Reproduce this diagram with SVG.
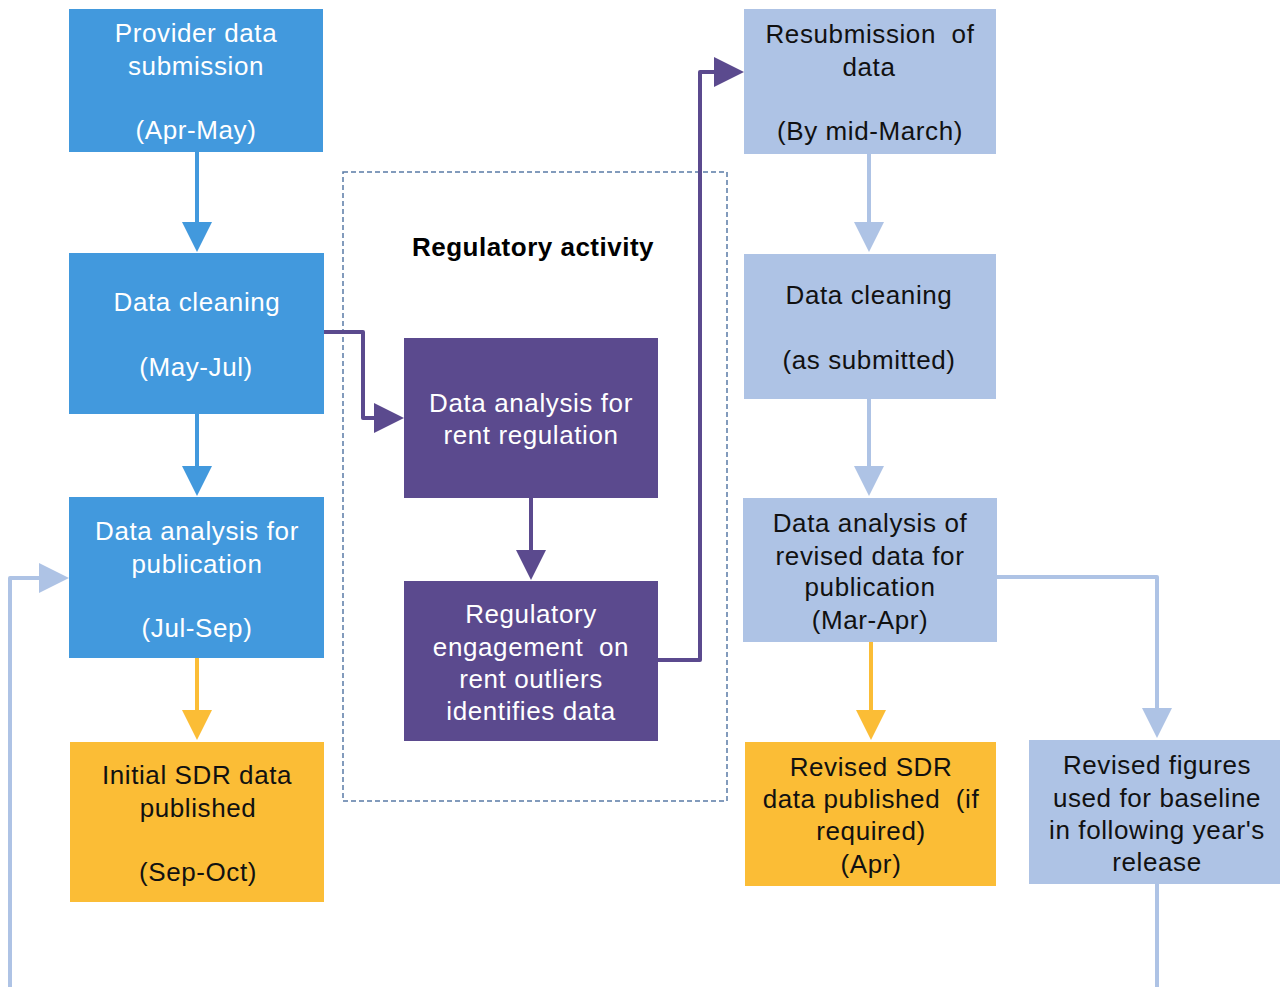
<svg xmlns="http://www.w3.org/2000/svg" width="1280" height="987" viewBox="0 0 1280 987">
<style>
text{font-family:"Liberation Sans",Arial,sans-serif;font-size:26px;letter-spacing:0.6px;text-anchor:middle;white-space:pre}
.w{fill:#ffffff}
.k{fill:#111111}
.blue{fill:#4299DD}
.purple{fill:#5B4A8E}
.light{fill:#AEC3E5}
.yellow{fill:#FBBD36}
.c{fill:none;stroke-width:4;stroke-linejoin:round}
</style>
<defs>
<marker id="mb" viewBox="0 0 30 30" refX="20" refY="15" markerWidth="30" markerHeight="30" markerUnits="userSpaceOnUse" orient="auto"><path d="M0,0 L30,15 L0,30 z" fill="#4299DD"/></marker>
<marker id="mp" viewBox="0 0 30 30" refX="20" refY="15" markerWidth="30" markerHeight="30" markerUnits="userSpaceOnUse" orient="auto"><path d="M0,0 L30,15 L0,30 z" fill="#5B4A8E"/></marker>
<marker id="ml" viewBox="0 0 30 30" refX="20" refY="15" markerWidth="30" markerHeight="30" markerUnits="userSpaceOnUse" orient="auto"><path d="M0,0 L30,15 L0,30 z" fill="#AEC3E5"/></marker>
<marker id="my" viewBox="0 0 30 30" refX="20" refY="15" markerWidth="30" markerHeight="30" markerUnits="userSpaceOnUse" orient="auto"><path d="M0,0 L30,15 L0,30 z" fill="#FBBD36"/></marker>
</defs>
<rect width="1280" height="987" fill="#ffffff"/>

<g id="regulatory-activity">
<rect x="343" y="172" width="384" height="629" fill="none" stroke="#5A7BA6" stroke-width="1.5" stroke-dasharray="5 3"/>
<text x="533" y="256" style="font-weight:bold;letter-spacing:0.5px" fill="#000000">Regulatory activity</text>
</g>

<g id="connectors">
<path class="c" stroke="#4299DD" d="M197,152 V242" marker-end="url(#mb)"/>
<path class="c" stroke="#4299DD" d="M197,414 V486" marker-end="url(#mb)"/>
<path class="c" stroke="#FBBD36" d="M197,658 V730" marker-end="url(#my)"/>
<path class="c" stroke="#5B4A8E" d="M324,332 H363 V418 H394" marker-end="url(#mp)"/>
<path class="c" stroke="#5B4A8E" d="M531,498 V570" marker-end="url(#mp)"/>
<path class="c" stroke="#5B4A8E" d="M658,660 H700 V72 H734" marker-end="url(#mp)"/>
<path class="c" stroke="#AEC3E5" d="M869,154 V242" marker-end="url(#ml)"/>
<path class="c" stroke="#AEC3E5" d="M869,399 V486" marker-end="url(#ml)"/>
<path class="c" stroke="#FBBD36" d="M871,642 V730" marker-end="url(#my)"/>
<path class="c" stroke="#AEC3E5" d="M997,577 H1157 V728" marker-end="url(#ml)"/>
<path class="c" stroke="#AEC3E5" d="M1157,884 V987"/>
<path class="c" stroke="#AEC3E5" d="M10,987 V578 H59" marker-end="url(#ml)"/>
</g>

<g id="provider-submission">
<rect class="blue" x="69" y="9" width="254" height="143"/>
<text class="w" x="196" y="42">Provider data</text>
<text class="w" x="196" y="75">submission</text>
<text class="w" x="196" y="139">(Apr-May)</text>
</g>

<g id="data-cleaning">
<rect class="blue" x="69" y="253" width="255" height="161"/>
<text class="w" x="197" y="311">Data cleaning</text>
<text class="w" x="196" y="376">(May-Jul)</text>
</g>

<g id="analysis-publication">
<rect class="blue" x="69" y="497" width="255" height="161"/>
<text class="w" x="197" y="540">Data analysis for</text>
<text class="w" x="197" y="573">publication</text>
<text class="w" x="197" y="637">(Jul-Sep)</text>
</g>

<g id="initial-sdr">
<rect class="yellow" x="70" y="742" width="254" height="160"/>
<text class="k" x="197" y="784">Initial SDR data</text>
<text class="k" x="198" y="817">published</text>
<text class="k" x="198" y="881">(Sep-Oct)</text>
</g>

<g id="analysis-rent">
<rect class="purple" x="404" y="338" width="254" height="160"/>
<text class="w" x="531" y="412">Data analysis for</text>
<text class="w" x="531" y="444">rent regulation</text>
</g>

<g id="regulatory-engagement">
<rect class="purple" x="404" y="581" width="254" height="160"/>
<text class="w" x="531" y="623">Regulatory</text>
<text class="w" x="531" y="656">engagement  on</text>
<text class="w" x="531" y="688">rent outliers</text>
<text class="w" x="531" y="720">identifies data</text>
</g>

<g id="resubmission">
<rect class="light" x="744" y="9" width="252" height="145"/>
<text class="k" x="870" y="43">Resubmission  of</text>
<text class="k" x="869" y="76">data</text>
<text class="k" x="870" y="140">(By mid-March)</text>
</g>

<g id="data-cleaning-submitted">
<rect class="light" x="744" y="254" width="252" height="145"/>
<text class="k" x="869" y="304">Data cleaning</text>
<text class="k" x="869" y="369">(as submitted)</text>
</g>

<g id="analysis-revised">
<rect class="light" x="743" y="498" width="254" height="144"/>
<text class="k" x="870" y="532">Data analysis of</text>
<text class="k" x="870" y="565">revised data for</text>
<text class="k" x="870" y="596">publication</text>
<text class="k" x="870" y="629">(Mar-Apr)</text>
</g>

<g id="revised-sdr">
<rect class="yellow" x="745" y="742" width="251" height="144"/>
<text class="k" x="871" y="776">Revised SDR</text>
<text class="k" x="871" y="808">data published  (if</text>
<text class="k" x="871" y="840">required)</text>
<text class="k" x="871" y="873">(Apr)</text>
</g>

<g id="revised-figures">
<rect class="light" x="1029" y="740" width="251" height="144"/>
<text class="k" x="1157" y="774">Revised figures</text>
<text class="k" x="1157" y="807">used for baseline</text>
<text class="k" x="1157" y="839">in following year's</text>
<text class="k" x="1157" y="871">release</text>
</g>
</svg>
